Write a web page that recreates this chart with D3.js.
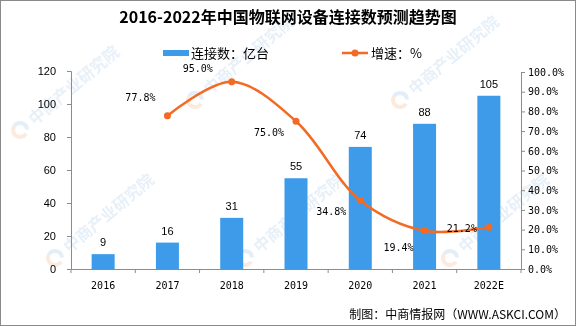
<!DOCTYPE html>
<html><head><meta charset="utf-8">
<script src="https://cdn.jsdelivr.net/npm/d3@7"></script>
<style>html,body{margin:0;padding:0;background:#fff;}svg{display:block;}</style>
</head><body>
<svg id="chart" width="576" height="326"></svg>
<script>
const categories = ["2016","2017","2018","2019","2020","2021","2022E"];
const connections = [9,16,31,55,74,88,105];
const growthYears = ["2017","2018","2019","2020","2021","2022E"];
const growthRates = [77.8,95.0,75.0,34.8,19.4,21.2];
const leftTicks = [0,20,40,60,80,100,120];
const rightTicks = [0,10,20,30,40,50,60,70,80,90,100];
const titleText = "2016-2022年中国物联网设备连接数预测趋势图";
const legendBar = "连接数：亿台";
const legendLine = "增速：%";
const sourceText = "制图：中商情报网（WWW.ASKCI.COM）";
const watermarkText = "中商产业研究院";

const W = 576, H = 326;
const svg = d3.select("#chart");
const BAR = "#3d9be9", LINE = "#f26a23", AXIS = "#8c8c8c";
const cjk = "'Noto Sans CJK SC', sans-serif";
const mono = "'DejaVu Sans Mono', 'Liberation Mono', monospace";
const sans = "'Liberation Sans', Arial, sans-serif";

// watermarks (kept inside the frame)
const wmSpots = [[20,130],[195,100],[400,100],[55,258],[245,258],[450,258]];
const wm = svg.append("g").attr("opacity", 0.28);
wmSpots.forEach(([x0,y0]) => {
  const g = wm.append("g").attr("transform", `translate(${x0},${y0}) rotate(-40)`);
  g.append("path").attr("d", d3.arc()({innerRadius:5, outerRadius:9, startAngle:Math.PI*0.9, endAngle:Math.PI*1.9})).attr("fill", "#f4b38a");
  g.append("path").attr("d", d3.arc()({innerRadius:5, outerRadius:9, startAngle:-Math.PI*0.1, endAngle:Math.PI*0.7})).attr("fill", "#9cc3e6");
  g.append("text").attr("x", 14).attr("y", 6).attr("font-family", cjk).attr("font-size", 16)
    .attr("font-weight", "bold").attr("fill", "#a9c8e6").text(watermarkText);
});

const m = {left: 71, right: 55, top: 72, bottom: 57};
const xb = d3.scaleBand().domain(categories).range([m.left, W - m.right]);
const yL = d3.scaleLinear().domain([0,120]).range([H - m.bottom, m.top - 1]);
const yR = d3.scaleLinear().domain([0,100]).range([H - m.bottom, m.top]);

// bars
svg.append("g").selectAll("rect").data(connections).join("rect")
  .attr("x", (d,i) => xb(categories[i]) + xb.bandwidth()/2 - 11.5)
  .attr("width", 23)
  .attr("y", d => yL(d)).attr("height", d => yL(0) - yL(d))
  .attr("fill", BAR);
svg.append("g").selectAll("text").data(connections).join("text")
  .attr("x", (d,i) => xb(categories[i]) + xb.bandwidth()/2)
  .attr("y", d => yL(d) - 8)
  .attr("text-anchor", "middle").attr("font-family", sans).attr("font-size", 11).attr("fill", "#000")
  .text(d => d);

// axes
const axL = svg.append("g").attr("transform", `translate(${m.left},0)`)
  .call(d3.axisLeft(yL).tickValues(leftTicks).tickSize(4).tickPadding(11));
axL.selectAll("text").attr("font-family", sans).attr("font-size", 11).attr("fill", "#000");
const axR = svg.append("g").attr("transform", `translate(${W - m.right},0)`)
  .call(d3.axisRight(yR).tickValues(rightTicks).tickSize(4).tickPadding(3).tickFormat(d => d.toFixed(1) + "%"));
axR.selectAll("text").attr("font-family", mono).attr("font-size", 10).attr("fill", "#000");
const axB = svg.append("g").attr("transform", `translate(0,${H - m.bottom})`)
  .call(d3.axisBottom(xb).tickSize(0).tickPadding(13));
axB.selectAll("text").attr("font-family", mono).attr("font-size", 10).attr("fill", "#000");
const bounds = categories.map(c => xb(c)).concat([W - m.right]);
axB.selectAll("line.sep").data(bounds).join("line").attr("class","sep")
  .attr("x1", d => d).attr("x2", d => d).attr("y1", 0).attr("y2", 4).attr("stroke", AXIS);
[axL, axR, axB].forEach(a => { a.selectAll("path.domain").attr("stroke", AXIS); a.selectAll(".tick line").attr("stroke", AXIS); });

// growth line
const px = d => xb(d) + xb.bandwidth()/2;
const pts = growthRates.map((v,i) => [px(growthYears[i]), yR(v)]);
svg.append("path").attr("d", d3.line().curve(d3.curveCatmullRom.alpha(0.5))(pts))
  .attr("fill", "none").attr("stroke", LINE).attr("stroke-width", 2.5);
svg.append("g").selectAll("circle").data(pts).join("circle")
  .attr("cx", d => d[0]).attr("cy", d => d[1]).attr("r", 3.5).attr("fill", LINE);
const labelOffsets = [[-27,-18],[-34,-13],[-27,11],[-29,11],[-26,17],[-27,1]];
svg.append("g").selectAll("text").data(growthRates).join("text")
  .attr("x", (d,i) => pts[i][0] + labelOffsets[i][0])
  .attr("y", (d,i) => pts[i][1] + labelOffsets[i][1])
  .attr("dy", "0.35em").attr("text-anchor", "middle")
  .attr("font-family", mono).attr("font-size", 10).attr("fill", "#000")
  .text(d => d.toFixed(1) + "%");

// title
svg.append("text").attr("x", 288).attr("y", 23).attr("text-anchor", "middle")
  .attr("font-family", cjk).attr("font-weight", "bold").attr("font-size", 16).attr("fill", "#000").text(titleText);

// legend
svg.append("rect").attr("x", 163).attr("y", 50).attr("width", 26).attr("height", 6).attr("fill", BAR);
svg.append("text").attr("x", 191).attr("y", 58).attr("font-family", cjk).attr("font-size", 13).attr("fill", "#000").text(legendBar);
svg.append("line").attr("x1", 342).attr("x2", 368).attr("y1", 53).attr("y2", 53).attr("stroke", LINE).attr("stroke-width", 2.5);
svg.append("circle").attr("cx", 355).attr("cy", 53).attr("r", 3.5).attr("fill", LINE);
svg.append("text").attr("x", 371).attr("y", 58).attr("font-family", cjk).attr("font-size", 13).attr("fill", "#000").text(legendLine);

// source
svg.append("text").attr("x", 566).attr("y", 319).attr("text-anchor", "end")
  .attr("font-family", cjk).attr("font-size", 12).attr("fill", "#000").text(sourceText);

// border
svg.append("rect").attr("x", 0.5).attr("y", 0.5).attr("width", W - 1).attr("height", H - 1)
  .attr("fill", "none").attr("stroke", "#8a8a8a");
</script>
</body></html>
